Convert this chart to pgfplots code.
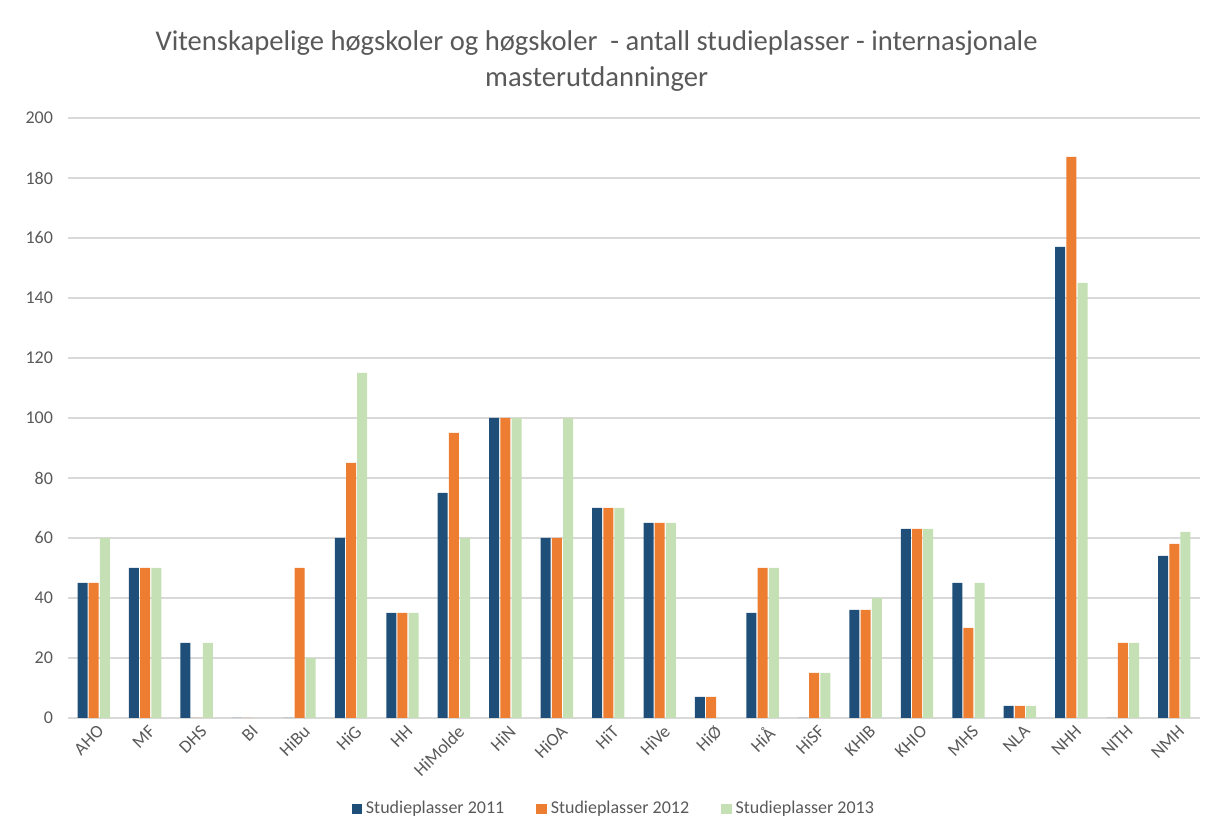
\documentclass[border=0pt]{standalone}
\usepackage{fontspec}
\setmainfont{Carlito}
\usepackage{pgfplots}
\pgfplotsset{compat=1.18}
\definecolor{c11}{HTML}{1F4E79}
\definecolor{c12}{HTML}{ED7D31}
\definecolor{c13}{HTML}{C5E0B4}
\definecolor{txt}{HTML}{595959}
\definecolor{gridc}{HTML}{D9D9D9}
\begin{document}
\begin{tikzpicture}
\useasboundingbox (-34pt,-57.5pt) rectangle (569pt,359pt);
\begin{axis}[
  scale only axis, width=566pt, height=300pt,
  ybar=0.6pt, bar width=5pt,
  xmin=-0.5, xmax=21.5, ymin=0, ymax=200,
  ytick={0,20,...,200},
  xtick={0,...,21},
  xticklabels={AHO,MF,DHS,BI,HiBu,HiG,HH,HiMolde,HiN,HiOA,HiT,HiVe,HiØ,HiÅ,HiSF,KHIB,KHIO,MHS,NLA,NHH,NITH,NMH},
  xticklabel style={rotate=45, anchor=north east, inner sep=1pt, yshift=-2pt},
  tick label style={font=\fontsize{9}{10}\selectfont, text=txt},
  /pgf/number format/assume math mode=true,
  yticklabel style={xshift=-4pt},
  major tick length=0pt,
  axis x line*=bottom, axis y line*=left,
  x axis line style={draw=gridc, line width=0.8pt, -},
  y axis line style={draw=none},
  ymajorgrids, grid style={gridc, line width=0.6pt},
  legend style={font=\fontsize{9}{10}\selectfont, text=txt, draw=none, fill=none,
    at={(0.483,-0.152)}, anchor=center, legend columns=3,
    /tikz/every even column/.append style={column sep=14pt}},
  legend image code/.code={\fill[#1] (0pt,-2.6pt) rectangle (5.2pt,2.6pt);},
  title style={font=\fontsize{14.3}{18}\selectfont, text=txt, align=center,
    at={(0.467,1)}, anchor=south, yshift=4pt},
  title={Vitenskapelige høgskoler og høgskoler\ \ - antall studieplasser - internasjonale\\masterutdanninger},
]
\addplot[fill=c11, draw=none] coordinates {(0,45)(1,50)(2,25)(3,0)(4,0)(5,60)(6,35)(7,75)(8,100)(9,60)(10,70)(11,65)(12,7)(13,35)(14,0)(15,36)(16,63)(17,45)(18,4)(19,157)(20,0)(21,54)};
\addplot[fill=c12, draw=none] coordinates {(0,45)(1,50)(2,0)(3,0)(4,50)(5,85)(6,35)(7,95)(8,100)(9,60)(10,70)(11,65)(12,7)(13,50)(14,15)(15,36)(16,63)(17,30)(18,4)(19,187)(20,25)(21,58)};
\addplot[fill=c13, draw=none] coordinates {(0,60)(1,50)(2,25)(3,0)(4,20)(5,115)(6,35)(7,60)(8,100)(9,100)(10,70)(11,65)(12,0)(13,50)(14,15)(15,40)(16,63)(17,45)(18,4)(19,145)(20,25)(21,62)};
\legend{Studieplasser 2011,Studieplasser 2012,Studieplasser 2013}
\end{axis}
\end{tikzpicture}
\end{document}
